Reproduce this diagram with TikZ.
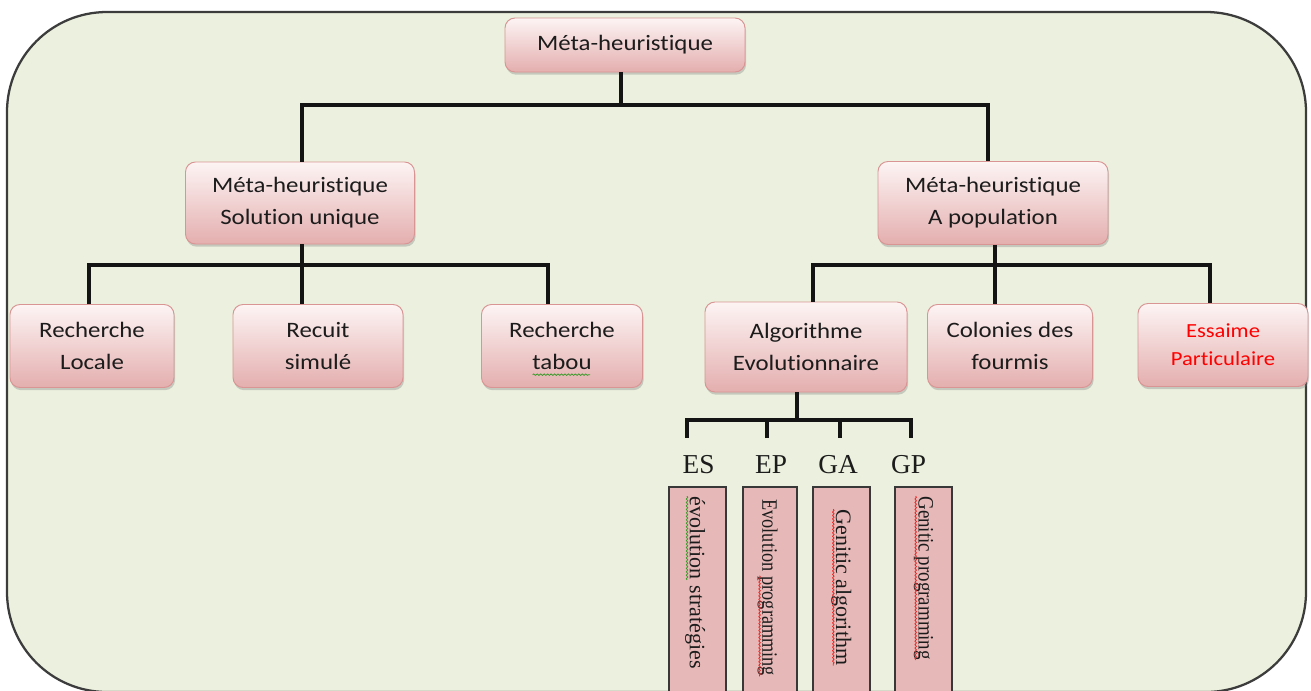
\documentclass[tikz,border=0pt]{standalone}
\usepackage{fontspec}
\setmainfont{Carlito}[FakeStretch=1.13, Ligatures=NoCommon]
\newfontfamily\serifnote{Liberation Serif}
\newfontfamily\serifep{Liberation Serif}[FakeStretch=0.83]
\newfontfamily\serifgp{Liberation Serif}[FakeStretch=0.86]
\usetikzlibrary{shadows,decorations.pathmorphing}

\definecolor{framefill}{HTML}{EBF1DE}
\definecolor{frameline}{HTML}{3C3C3C}
\definecolor{boxtop}{HTML}{FDF4F4}
\definecolor{boxbot}{HTML}{E4AEAE}
\definecolor{boxline}{HTML}{D99494}
\definecolor{vfill}{HTML}{E6B9B8}
\definecolor{vline}{HTML}{383838}
\definecolor{ink}{HTML}{1C1C1C}
\definecolor{wire}{HTML}{141414}
\definecolor{spellred}{HTML}{F02020}
\definecolor{spellgreen}{HTML}{3A9A2A}

\tikzset{
  frame/.style={draw=frameline, line width=1.7pt, fill=framefill, rounded corners=75pt},
  box/.style={draw=boxline, line width=0.7pt, rounded corners=7.5pt,
    top color=boxtop, bottom color=boxbot,
    drop shadow={shadow xshift=0.8pt, shadow yshift=-2pt, opacity=0.35},
    align=center, text=ink, inner sep=0pt,
    font=\fontsize{16.5}{24}\selectfont},
  conn/.style={draw=wire, line width=2.6pt, line join=miter},
  tag/.style={font=\serifnote\fontsize{20.5}{24}\selectfont, text=ink, inner sep=0pt, anchor=base},
  vbox/.style={draw=vline, line width=1.2pt, fill=vfill, inner sep=0pt,
    minimum height=156pt},
  vtext/.style={font=\serifnote\fontsize{16.5}{20}\selectfont, text=ink,
    rotate=-90, anchor=west, inner sep=0pt},
  wave/.style={line width=0.6pt, decorate,
    decoration={snake, amplitude=0.55pt, segment length=2.6pt}},
  redwave/.style={wave, draw=spellred},
  greenwave/.style={wave, draw=spellgreen}
}

\begin{document}
\begin{tikzpicture}[x=0.75pt,y=-0.75pt]
\useasboundingbox (0,0) rectangle (1311,690);
\clip (0,0) rectangle (1311,690);

% background panel
\draw[frame] (7,12) rectangle (1306,692);

% bus levels
\coordinate (bus1) at (0,105);
\coordinate (bus2) at (0,265);
\coordinate (bus3) at (0,420);

% tree nodes
\node[box, minimum width=180pt, minimum height=40.5pt] (top) at (625,45) {Méta-heuristique};
\node[box, minimum width=171.75pt, minimum height=61.5pt] (sol) at (300,203) {Méta-heuristique\\Solution unique};
\node[box, minimum width=172.5pt, minimum height=62.25pt] (pop) at (993,203) {Méta-heuristique\\A population};

\node[box, minimum width=123pt, minimum height=62.25pt] (rl) at (92,346) {Recherche\\Locale};
\node[box, minimum width=127.5pt, minimum height=62.25pt] (rs) at (318,346) {Recuit\\simulé};
\node[box, minimum width=120.75pt, minimum height=62.25pt] (rt) at (562,346) {Recherche\\tabou};

\node[box, minimum width=151.5pt, minimum height=67.5pt] (ae) at (806,347) {Algorithme\\Evolutionnaire};
\node[box, minimum width=123.75pt, minimum height=62.25pt] (cf) at (1010,346) {Colonies des\\fourmis};
\node[box, minimum width=127.5pt, minimum height=62.25pt, text=red,
      font=\fontsize{15}{21}\selectfont] (ess) at (1223,345) {Essaime\\Particulaire};

% grammar mark under "tabou"
\draw[greenwave] ([xshift=-22pt,yshift=-21.5pt]rt.center) -- ([xshift=21pt,yshift=-21.5pt]rt.center);

% attachment points of the connectors
\path ([xshift=-3pt]top.south) coordinate (topS)
      ([xshift=1.5pt]sol.north) coordinate (solN)
      ([xshift=1.5pt]sol.south) coordinate (solS)
      ([xshift=-3.75pt]pop.north) coordinate (popN)
      ([xshift=1.5pt]pop.south) coordinate (popS)
      ([xshift=-2.25pt]rl.north) coordinate (rlN)
      ([xshift=-12pt]rs.north) coordinate (rsN)
      ([xshift=-10.5pt]rt.north) coordinate (rtN)
      ([xshift=5.25pt]ae.north) coordinate (aeN)
      ([xshift=-6.75pt]ae.south) coordinate (aeS)
      ([xshift=-11.25pt]cf.north) coordinate (cfN)
      ([xshift=-9.75pt]ess.north) coordinate (essN);

% family labels
\node[tag] (es) at (698.5,473) {ES};
\node[tag] (ep) at (771,473) {EP};
\node[tag] (ga) at (838,473) {GA};
\node[tag] (gp) at (908.5,473) {GP};
\path ([xshift=-8.6pt,yshift=12.5pt]es.north) coordinate (esN)
      ([xshift=-3pt,yshift=12.5pt]ep.north) coordinate (epN)
      ([xshift=1.5pt,yshift=12.5pt]ga.north) coordinate (gaN)
      ([xshift=1.9pt,yshift=12.5pt]gp.north) coordinate (gpN);

% connectors
\draw[conn] (topS) -- (topS |- bus1);
\draw[conn] (solN) -- (solN |- bus1) -- (popN |- bus1) -- (popN);
\draw[conn] (solS) -- (rsN);
\draw[conn] (rlN) -- (rlN |- bus2) -- (rtN |- bus2) -- (rtN);
\draw[conn] (popS) -- (cfN);
\draw[conn] (aeN) -- (aeN |- bus2) -- (essN |- bus2) -- (essN);
\draw[conn] (aeS) -- (aeS |- bus3);
\draw[conn] (esN) -- (esN |- bus3) -- (gpN |- bus3) -- (gpN);
\draw[conn] (epN) -- (epN |- bus3);
\draw[conn] (gaN) -- (gaN |- bus3);

% vertical name strips
\node[vbox, minimum width=42.75pt] (bes) at (697.5,591) {};
\node[vbox, minimum width=40.5pt] (bep) at (770,591) {};
\node[vbox, minimum width=42.75pt] (bga) at (841.5,591) {};
\node[vbox, minimum width=42.75pt] (bgp) at (923.5,591) {};

% strip texts, read downwards
\node[vtext] (tes1) at ([yshift=-7.5pt]bes.north) {évolution};
\node[vtext, anchor=base west] (tes2) at (tes1.base east) {\ stratégies};
\draw[greenwave] ([xshift=-2.2pt]tes1.base west) -- ([xshift=-2.2pt]tes1.base east);

\node[vtext, font=\serifep\fontsize{16.5}{20}\selectfont] (tep1) at ([yshift=-9.75pt]bep.north) {Evolution};
\node[vtext, font=\serifep\fontsize{16.5}{20}\selectfont, anchor=base west] (tep2) at (tep1.base east) {\ programming};
\draw[redwave] ([xshift=-2.2pt,yshift=-3pt]tep2.base west) -- ([xshift=-2.2pt]tep2.base east);

\node[vtext] (tga) at ([yshift=-17.25pt]bga.north) {Genitic algorithm};
\draw[redwave] ([xshift=-2.2pt]tga.base west) -- ([xshift=-2.2pt]tga.base east);

\node[vtext, font=\serifgp\fontsize{16.5}{20}\selectfont] (tgp) at ([yshift=-7.5pt]bgp.north) {Genitic programming};
\draw[redwave] ([xshift=-2.2pt]tgp.base west) -- ([xshift=-2.2pt]tgp.base east);
\end{tikzpicture}
\end{document}
